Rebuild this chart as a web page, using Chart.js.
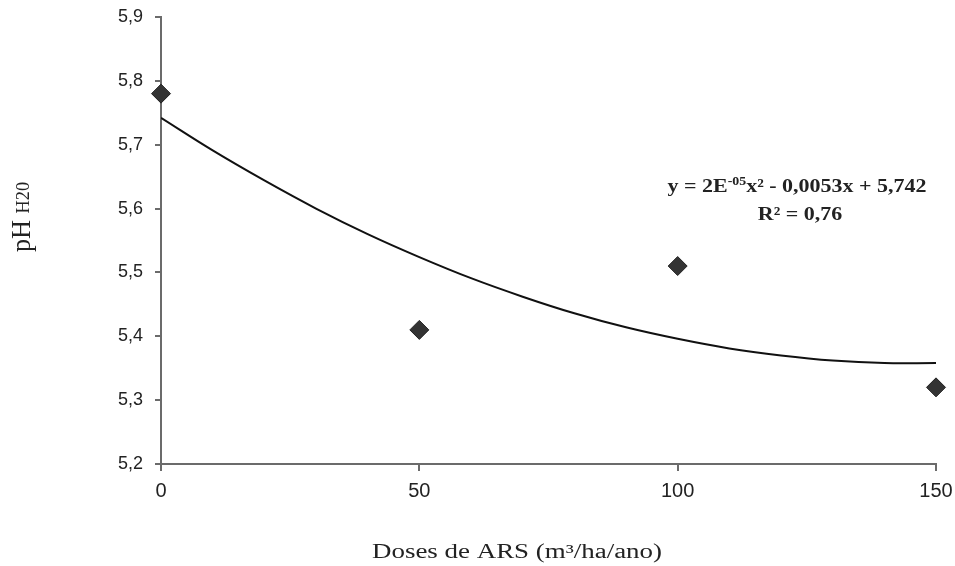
<!DOCTYPE html>
<html>
<head>
<meta charset="utf-8">
<script src="https://cdn.jsdelivr.net/npm/chart.js@4.4.1/dist/chart.umd.min.js"></script>
<style>
  html,body{margin:0;padding:0;background:#fff;}
  #wrap{width:955px;height:566px;position:relative;}
</style>
</head>
<body>
<div id="wrap"><canvas id="c" width="955" height="566"></canvas></div>
<script>
// Observed data
const doses = [0, 50, 100, 150];
const phValues = [5.78, 5.41, 5.51, 5.32];
// Trend curve at regular doses
const trendX = [0, 10, 20, 30, 40, 50, 60, 70, 80, 90, 100, 110, 120, 130, 140, 150];
const trendY = [5.742, 5.691, 5.644, 5.600, 5.560, 5.524, 5.491, 5.462, 5.436, 5.414, 5.396, 5.381, 5.370, 5.362, 5.358, 5.358];
const xTicks = [0, 50, 100, 150];
const yTicks = [5.2, 5.3, 5.4, 5.5, 5.6, 5.7, 5.8, 5.9];
const xTitle = 'Doses de ARS (m³/ha/ano)';
const yTitleMain = 'pH';
const yTitleSub = 'H20';
const eqParts = ['y = 2E', '-05', 'x² - 0,0053x + 5,742'];
const r2Text = 'R² = 0,76';

const AXIS = '#6b6b6b';
const SERIF = '"Liberation Serif", "Times New Roman", serif';

const textPlugin = {
  id: 'texts',
  afterDraw(chart) {
    const ctx = chart.ctx;
    ctx.save();
    ctx.fillStyle = '#222';
    // X title (stretched horizontally like the reference)
    ctx.font = '20px ' + SERIF;
    ctx.textAlign = 'center';
    ctx.textBaseline = 'middle';
    const wt = ctx.measureText(xTitle).width;
    ctx.save();
    ctx.translate(517, 553);
    ctx.scale(290 / wt, 1);
    ctx.fillText(xTitle, 0, 0);
    ctx.restore();
    // Y title rotated
    ctx.save();
    ctx.translate(30, 217);
    ctx.rotate(-Math.PI / 2);
    ctx.textAlign = 'left';
    ctx.textBaseline = 'alphabetic';
    ctx.font = '23px ' + SERIF;
    const wMain = ctx.measureText(yTitleMain + ' ').width;
    ctx.font = '16px ' + SERIF;
    const wSub = ctx.measureText(yTitleSub).width;
    const totalW = wMain + wSub;
    ctx.scale(70 / totalW, 1.15);
    const start = -totalW / 2;
    ctx.font = '23px ' + SERIF;
    ctx.fillText(yTitleMain + ' ', start, 0);
    ctx.font = '16px ' + SERIF;
    ctx.fillText(yTitleSub, start + wMain, -1);
    ctx.restore();
    // Equation
    const fMain = 'bold 19px ' + SERIF;
    const fSup = 'bold 12px ' + SERIF;
    ctx.textAlign = 'left';
    ctx.textBaseline = 'alphabetic';
    ctx.font = fMain; const w0 = ctx.measureText(eqParts[0]).width;
    ctx.font = fSup; const w1 = ctx.measureText(eqParts[1]).width;
    ctx.font = fMain; const w2 = ctx.measureText(eqParts[2]).width;
    const tot = w0 + w1 + w2;
    const sx = 259 / tot;
    ctx.save();
    ctx.translate(797, 192);
    ctx.scale(sx, 1);
    let x = -tot / 2;
    ctx.font = fMain; ctx.fillText(eqParts[0], x, 0); x += w0;
    ctx.font = fSup; ctx.fillText(eqParts[1], x, -7); x += w1;
    ctx.font = fMain; ctx.fillText(eqParts[2], x, 0);
    ctx.restore();
    ctx.save();
    ctx.translate(800, 220);
    ctx.scale(sx, 1);
    ctx.textAlign = 'center';
    ctx.font = fMain;
    ctx.fillText(r2Text, 0, 0);
    ctx.restore();
    ctx.restore();
  }
};

new Chart(document.getElementById('c'), {
  type: 'scatter',
  data: {
    datasets: [
      {
        type: 'line',
        label: 'trend',
        data: trendX.map((x, i) => ({x, y: trendY[i]})),
        borderColor: '#111',
        borderWidth: 2,
        pointRadius: 0,
        tension: 0.4,
        fill: false,
        order: 2
      },
      {
        label: 'pH',
        data: doses.map((x, i) => ({x, y: phValues[i]})),
        pointStyle: 'rectRot',
        pointRadius: 9.5,
        pointHoverRadius: 9.5,
        backgroundColor: '#333',
        borderColor: '#222',
        borderWidth: 1,
        clip: false,
        order: 1
      }
    ]
  },
  options: {
    responsive: false,
    animation: false,
    devicePixelRatio: 1,
    layout: { padding: { left: 0, top: 17, right: 19, bottom: 0 } },
    plugins: { legend: { display: false }, tooltip: { enabled: false }, title: { display: false } },
    scales: {
      x: {
        type: 'linear',
        min: 0, max: 150,
        afterFit(s) { s.height = 102; s.paddingLeft = 0; s.paddingRight = 0; },
        afterBuildTicks(s) { s.ticks = xTicks.map(v => ({value: v})); },
        grid: { display: true, drawOnChartArea: false, drawTicks: true, tickLength: 7, color: AXIS, lineWidth: 2 },
        border: { display: true, color: AXIS, width: 2 },
        ticks: { color: '#222', padding: 8, font: { family: '"Liberation Sans", Arial, sans-serif', size: 20 }, maxRotation: 0 }
      },
      y: {
        type: 'linear',
        min: 5.2, max: 5.9,
        afterFit(s) { s.width = 161; s.paddingTop = 0; s.paddingBottom = 0; },
        afterBuildTicks(s) { s.ticks = yTicks.map(v => ({value: v})); },
        grid: { display: true, drawOnChartArea: false, drawTicks: true, tickLength: 6, color: AXIS, lineWidth: 2 },
        border: { display: true, color: AXIS, width: 2 },
        ticks: {
          color: '#222', padding: 12,
          font: { family: '"Liberation Sans", Arial, sans-serif', size: 18 },
          callback: v => v.toFixed(1).replace('.', ',')
        }
      }
    }
  },
  plugins: [textPlugin]
});
</script>
</body>
</html>
